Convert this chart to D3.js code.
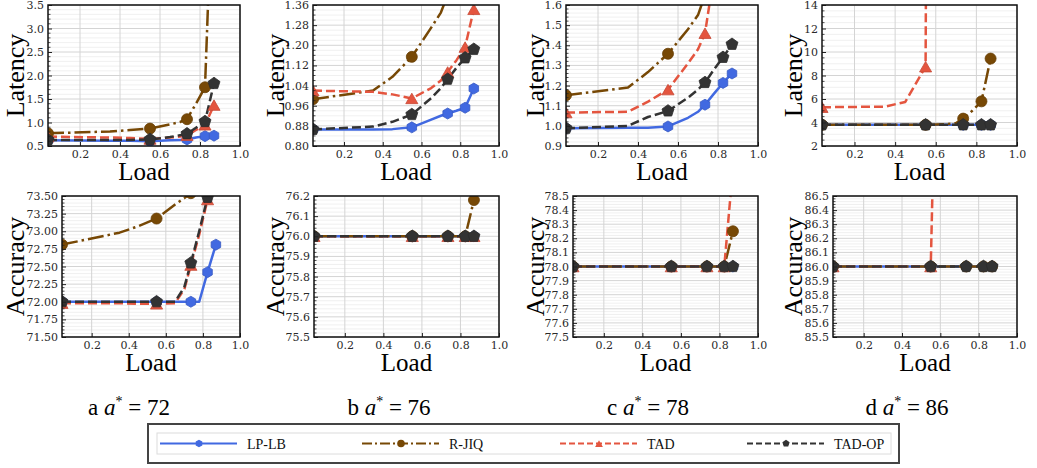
<!DOCTYPE html>
<html><head><meta charset="utf-8">
<script src="https://cdn.jsdelivr.net/npm/d3@7"></script>
<style>body{margin:0;background:#fff}svg{display:block}</style>
</head><body>
<svg id="chart" width="1037" height="468"></svg>
<script>
// ---------------- DATA ----------------
const loads = [0.04, 0.35, 0.45, 0.55, 0.65, 0.7, 0.735, 0.78, 0.825, 0.87];
const markerLoads = [0.04, 0.55, 0.735, 0.825, 0.87];
const seriesNames = ["LP-LB", "R-JIQ", "TAD", "TAD-OP"];
const panelLetters = ["a", "b", "c", "d"];
const targetAccuracy = [72, 76, 78, 86];
const xTicks = [0.2, 0.4, 0.6, 0.8, 1.0];

// Latency, a* = 72
const latA_LPLB  = [0.62, 0.61, 0.61, 0.60, 0.62, 0.63, 0.64, 0.68, 0.71, 0.72];
const latA_RJIQ  = [0.77, 0.81, 0.84, 0.87, 0.96, 1.01, 1.07, 1.40, 1.75, 7.0];
const latA_TAD   = [0.70, 0.68, 0.67, 0.65, 0.68, 0.70, 0.73, 0.84, 0.95, 1.37];
const latA_TADOP = [0.63, 0.63, 0.63, 0.64, 0.69, 0.73, 0.76, 0.89, 1.02, 1.83];
// Latency, a* = 76
const latB_LPLB  = [0.866, 0.866, 0.867, 0.874, 0.905, 0.92, 0.929, 0.94, 0.952, 1.028];
const latB_RJIQ  = [0.986, 1.02, 1.075, 1.154, 1.27, 1.33, 1.40, 1.55, 1.75, 2.1];
const latB_TAD   = [1.02, 1.015, 1.005, 0.989, 1.03, 1.06, 1.094, 1.14, 1.193, 1.343];
const latB_TADOP = [0.866, 0.877, 0.896, 0.925, 0.99, 1.03, 1.065, 1.11, 1.15, 1.184];
// Latency, a* = 78
const latC_LPLB  = [0.988, 0.99, 0.99, 0.997, 1.04, 1.07, 1.105, 1.16, 1.213, 1.26];
const latC_RJIQ  = [1.152, 1.19, 1.267, 1.358, 1.48, 1.55, 1.65, 1.82, 2.0, 2.5];
const latC_TAD   = [1.066, 1.07, 1.12, 1.18, 1.31, 1.38, 1.46, 1.75, 2.1, 3.0];
const latC_TADOP = [0.988, 1.0, 1.044, 1.074, 1.14, 1.18, 1.215, 1.28, 1.34, 1.405];
// Latency, a* = 86
const latD_LPLB  = [3.8, 3.8, 3.8, 3.8, 3.8, 3.8, 3.8, 3.8, 3.8, 3.8];
const latD_RJIQ  = [3.8, 3.8, 3.8, 3.8, 3.85, 3.95, 4.33, 5.0, 5.8, 9.44];
const latD_TAD   = [5.3, 5.35, 5.75, 8.75, 400, 500, 600, 700, 800, 900];
const latD_TADOP = [3.8, 3.8, 3.8, 3.8, 3.8, 3.8, 3.8, 3.8, 3.8, 3.8];

// Accuracy, a* = 72
const accA_LPLB  = [72.0, 72.0, 72.0, 72.0, 72.0, 72.0, 72.0, 72.0, 72.42, 72.81];
const accA_RJIQ  = [72.81, 72.98, 73.07, 73.18, 73.38, 73.47, 73.54, 73.65, 73.8, 74.0];
const accA_TAD   = [71.98, 71.98, 71.97, 71.97, 71.98, 72.18, 72.52, 72.95, 73.45, 74.2];
const accA_TADOP = [72.0, 72.0, 72.0, 72.0, 72.0, 72.21, 72.55, 73.0, 73.48, 74.3];
// Accuracy, a* = 76
const accB_LPLB  = [76.0, 76.0, 76.0, 76.0, 76.0, 76.0, 76.0, 76.0, 76.0, 76.0];
const accB_RJIQ  = [76.0, 76.0, 76.0, 76.0, 76.0, 76.0, 76.0, 76.0, 76.0, 76.18];
const accB_TAD   = [76.0, 76.0, 76.0, 76.0, 76.0, 76.0, 76.0, 76.0, 76.0, 76.0];
const accB_TADOP = [76.0, 76.0, 76.0, 76.0, 76.0, 76.0, 76.0, 76.0, 76.0, 76.0];
// Accuracy, a* = 78
const accC_LPLB  = [78.0, 78.0, 78.0, 78.0, 78.0, 78.0, 78.0, 78.0, 78.0, 78.0];
const accC_RJIQ  = [78.0, 78.0, 78.0, 78.0, 78.0, 78.0, 78.0, 78.0, 78.0, 78.25];
const accC_TAD   = [78.0, 78.0, 78.0, 78.0, 78.0, 78.0, 78.0, 78.0, 78.0, 78.7];
const accC_TADOP = [78.0, 78.0, 78.0, 78.0, 78.0, 78.0, 78.0, 78.0, 78.0, 78.0];
// Accuracy, a* = 86
const accD_LPLB  = [86.0, 86.0, 86.0, 86.0, 86.0, 86.0, 86.0, 86.0, 86.0, 86.0];
const accD_RJIQ  = [86.0, 86.0, 86.0, 86.0, 86.0, 86.0, 86.0, 86.0, 86.0, 86.0];
const accD_TAD   = [86.0, 86.0, 86.0, 86.0, 92.0, 93.0, 94.0, 95.0, 96.0, 97.0];
const accD_TADOP = [86.0, 86.0, 86.0, 86.0, 86.0, 86.0, 86.0, 86.0, 86.0, 86.0];

// y-axis tick labels
const latTicksA = [0.5, 1.0, 1.5, 2.0, 2.5, 3.0, 3.5];
const latTicksB = [0.80, 0.88, 0.96, 1.04, 1.12, 1.20, 1.28, 1.36];
const latTicksC = [0.9, 1.0, 1.1, 1.2, 1.3, 1.4, 1.5, 1.6];
const latTicksD = [2, 4, 6, 8, 10, 12, 14];
const accTicksA = [71.50, 71.75, 72.00, 72.25, 72.50, 72.75, 73.00, 73.25, 73.50];
const accTicksB = [75.5, 75.6, 75.7, 75.8, 75.9, 76.0, 76.1, 76.2];
const accTicksC = [77.5, 77.6, 77.7, 77.8, 77.9, 78.0, 78.1, 78.2, 78.3, 78.4, 78.5];
const accTicksD = [85.5, 85.6, 85.7, 85.8, 85.9, 86.0, 86.1, 86.2, 86.3, 86.4, 86.5];

// ---------------- STYLE / LAYOUT ----------------
const colors = ["#4169e1", "#774805", "#e4553f", "#333333"];
const dashes = [null, "16,4,2.5,4", "9,4", "9,4"];
const markerSides = [6, 0, 3, 5];       // 0 = circle
const markerR = [5.5, 5.5, 7, 6.3];

const svg = d3.select("#chart");
const colX = [0, 260, 520, 780];

const panels = [
  {row:0, col:0, x0:48,  x1:240,  y0:5,   y1:146, dom:[0.5,3.5],   ticks:latTicksA, fmt:".1f", minor:5, ylabel:"Latency",  data:[latA_LPLB,latA_RJIQ,latA_TAD,latA_TADOP]},
  {row:0, col:1, x0:313, x1:499,  y0:5,   y1:146, dom:[0.80,1.36], ticks:latTicksB, fmt:".2f", minor:4, ylabel:"Latency",  data:[latB_LPLB,latB_RJIQ,latB_TAD,latB_TADOP]},
  {row:0, col:2, x0:566, x1:758,  y0:5,   y1:146, dom:[0.9,1.6],   ticks:latTicksC, fmt:".1f", minor:5, ylabel:"Latency",  data:[latC_LPLB,latC_RJIQ,latC_TAD,latC_TADOP]},
  {row:0, col:3, x0:822, x1:1017, y0:5,   y1:146, dom:[2,14],      ticks:latTicksD, fmt:"d",   minor:4, ylabel:"Latency",  data:[latD_LPLB,latD_RJIQ,latD_TAD,latD_TADOP]},
  {row:1, col:0, x0:62,  x1:240,  y0:196, y1:337, dom:[71.5,73.5], ticks:accTicksA, fmt:".2f", minor:5, ylabel:"Accuracy", data:[accA_LPLB,accA_RJIQ,accA_TAD,accA_TADOP]},
  {row:1, col:1, x0:314, x1:499,  y0:196, y1:337, dom:[75.5,76.2], ticks:accTicksB, fmt:".1f", minor:5, ylabel:"Accuracy", data:[accB_LPLB,accB_RJIQ,accB_TAD,accB_TADOP]},
  {row:1, col:2, x0:573, x1:758,  y0:196, y1:337, dom:[77.5,78.5], ticks:accTicksC, fmt:".1f", minor:5, ylabel:"Accuracy", data:[accC_LPLB,accC_RJIQ,accC_TAD,accC_TADOP]},
  {row:1, col:3, x0:833, x1:1017, y0:196, y1:337, dom:[85.5,86.5], ticks:accTicksD, fmt:".1f", minor:5, ylabel:"Accuracy", data:[accD_LPLB,accD_RJIQ,accD_TAD,accD_TADOP]},
];

function polyPath(n, r) {
  if (n === 0) return d3.symbol(d3.symbolCircle, Math.PI * r * r)();
  const pts = d3.range(n).map(i => {
    const a = -Math.PI / 2 + i * 2 * Math.PI / n;
    return [r * Math.cos(a), r * Math.sin(a) + (n === 3 ? r * 0.25 : 0)];
  });
  return "M" + pts.map(p => p.join(",")).join("L") + "Z";
}

const tickFont = "'DejaVu Serif', serif";
const labelFont = "'Liberation Serif', 'Times New Roman', serif";

panels.forEach((p, pi) => {
  const g = svg.append("g");
  const x = d3.scaleLinear().domain([0.04, 1.0]).range([p.x0, p.x1]);
  const y = d3.scaleLinear().domain(p.dom).range([p.y1, p.y0]);
  const step = p.ticks[1] - p.ticks[0];

  // minor grid
  const minorVals = [];
  for (let i = 0; i < p.ticks.length - 1; i++)
    for (let k = 1; k < p.minor; k++) minorVals.push(p.ticks[i] + step * k / p.minor);
  g.append("g").selectAll("line").data(minorVals).join("line")
    .attr("x1", p.x0).attr("x2", p.x1).attr("y1", d => y(d)).attr("y2", d => y(d))
    .attr("stroke", "#ececec").attr("stroke-width", 0.8);
  // major grid
  g.append("g").selectAll("line").data(p.ticks).join("line")
    .attr("x1", p.x0).attr("x2", p.x1).attr("y1", d => y(d)).attr("y2", d => y(d))
    .attr("stroke", "#d4d4d4").attr("stroke-width", 1);
  g.append("g").selectAll("line").data(xTicks).join("line")
    .attr("x1", d => x(d)).attr("x2", d => x(d)).attr("y1", p.y0).attr("y2", p.y1)
    .attr("stroke", "#d4d4d4").attr("stroke-width", 1);

  // clip
  const cid = "clip" + pi;
  svg.append("clipPath").attr("id", cid).append("rect")
    .attr("x", p.x0).attr("y", p.y0).attr("width", p.x1 - p.x0).attr("height", p.y1 - p.y0);
  const plot = g.append("g").attr("clip-path", `url(#${cid})`);

  const line = d3.line().x((d, i) => x(loads[i])).y(d => y(d));
  p.data.forEach((vals, si) => {
    plot.append("path").attr("d", line(vals)).attr("fill", "none")
      .attr("stroke", colors[si]).attr("stroke-width", 2.5)
      .attr("stroke-dasharray", dashes[si]).attr("stroke-linejoin", "round");
  });
  p.data.forEach((vals, si) => {
    const pts = loads.map((l, i) => [l, vals[i]]).filter(d => markerLoads.includes(d[0]));
    plot.selectAll(null).data(pts).join("path")
      .attr("transform", d => `translate(${x(d[0])},${y(d[1])})`)
      .attr("d", polyPath(markerSides[si], markerR[si]))
      .attr("fill", colors[si]).attr("stroke", d3.color(colors[si]).darker(0.4)).attr("stroke-width", 0.8);
  });

  // axes
  const yAxis = d3.axisLeft(y).tickValues(p.ticks).tickSize(-4).tickPadding(4).tickFormat(d3.format(p.fmt));
  const ya = g.append("g").attr("transform", `translate(${p.x0},0)`).call(yAxis);
  const xAxis = d3.axisBottom(x).tickValues(xTicks).tickSize(-4).tickPadding(4).tickFormat(d3.format(".1f"));
  const xa = g.append("g").attr("transform", `translate(0,${p.y1})`).call(xAxis);
  ya.selectAll("text").attr("x", -4);
  [ya, xa].forEach(a => {
    a.select(".domain").remove();
    a.selectAll("text").attr("font-family", tickFont).attr("font-size", 11).attr("fill", "#2a2a2a");
    a.selectAll("line").attr("stroke", "#222");
  });
  // minor y ticks
  g.append("g").selectAll("line").data(minorVals).join("line")
    .attr("x1", p.x0).attr("x2", p.x0 + 2.5).attr("y1", d => y(d)).attr("y2", d => y(d))
    .attr("stroke", "#222").attr("stroke-width", 0.8);

  // frame
  g.append("rect").attr("x", p.x0).attr("y", p.y0).attr("width", p.x1 - p.x0).attr("height", p.y1 - p.y0)
    .attr("fill", "none").attr("stroke", "#111").attr("stroke-width", 1.5);

  // labels
  const lx = colX[p.col] + (p.col === 3 ? 22 : 24);
  g.append("text").attr("transform", `translate(${lx},${(p.y0 + p.y1) / 2}) rotate(-90)`)
    .attr("text-anchor", "middle").attr("font-family", labelFont).attr("font-size", 26)
    .attr("fill", "#000").text(p.ylabel);
  g.append("text").attr("x", (p.x0 + p.x1) / 2).attr("y", p.y1 + 34)
    .attr("text-anchor", "middle").attr("font-family", labelFont).attr("font-size", 25)
    .attr("fill", "#000").text("Load");
});

// captions
const capX = [129, 389, 648, 907];
panelLetters.forEach((L, i) => {
  const t = svg.append("text").attr("x", capX[i]).attr("y", 415).attr("text-anchor", "middle")
    .attr("font-family", labelFont).attr("font-size", 23).attr("fill", "#000");
  t.append("tspan").text(L + " ");
  t.append("tspan").attr("font-style", "italic").text("a");
  t.append("tspan").attr("font-size", 14).attr("dy", -9).text("*");
  t.append("tspan").attr("dy", 9).text(" = " + targetAccuracy[i]);
});

// legend
svg.append("rect").attr("x", 148).attr("y", 424).attr("width", 751).attr("height", 39)
  .attr("fill", "#fff").attr("stroke", "#444").attr("stroke-width", 2);
svg.append("rect").attr("x", 157).attr("y", 433).attr("width", 734).attr("height", 21)
  .attr("fill", "#fff").attr("stroke", "#dcdcdc").attr("stroke-width", 1);
const legX = [160, 362, 560, 747];
seriesNames.forEach((name, si) => {
  const lg = svg.append("g");
  lg.append("line").attr("x1", legX[si]).attr("x2", legX[si] + 77).attr("y1", 443.5).attr("y2", 443.5)
    .attr("stroke", colors[si]).attr("stroke-width", 2).attr("stroke-dasharray", si === 1 ? "10,3,2,3" : (si === 0 ? null : "6,3"));
  lg.append("path").attr("transform", `translate(${legX[si] + 39},443.5)`)
    .attr("d", polyPath(markerSides[si], markerSides[si] === 3 ? 4.5 : 3.8)).attr("fill", colors[si]);
  lg.append("text").attr("x", legX[si] + 87).attr("y", 448.5).attr("font-family", labelFont)
    .attr("font-size", 14).attr("fill", "#111").text(name);
});
</script>
</body></html>
